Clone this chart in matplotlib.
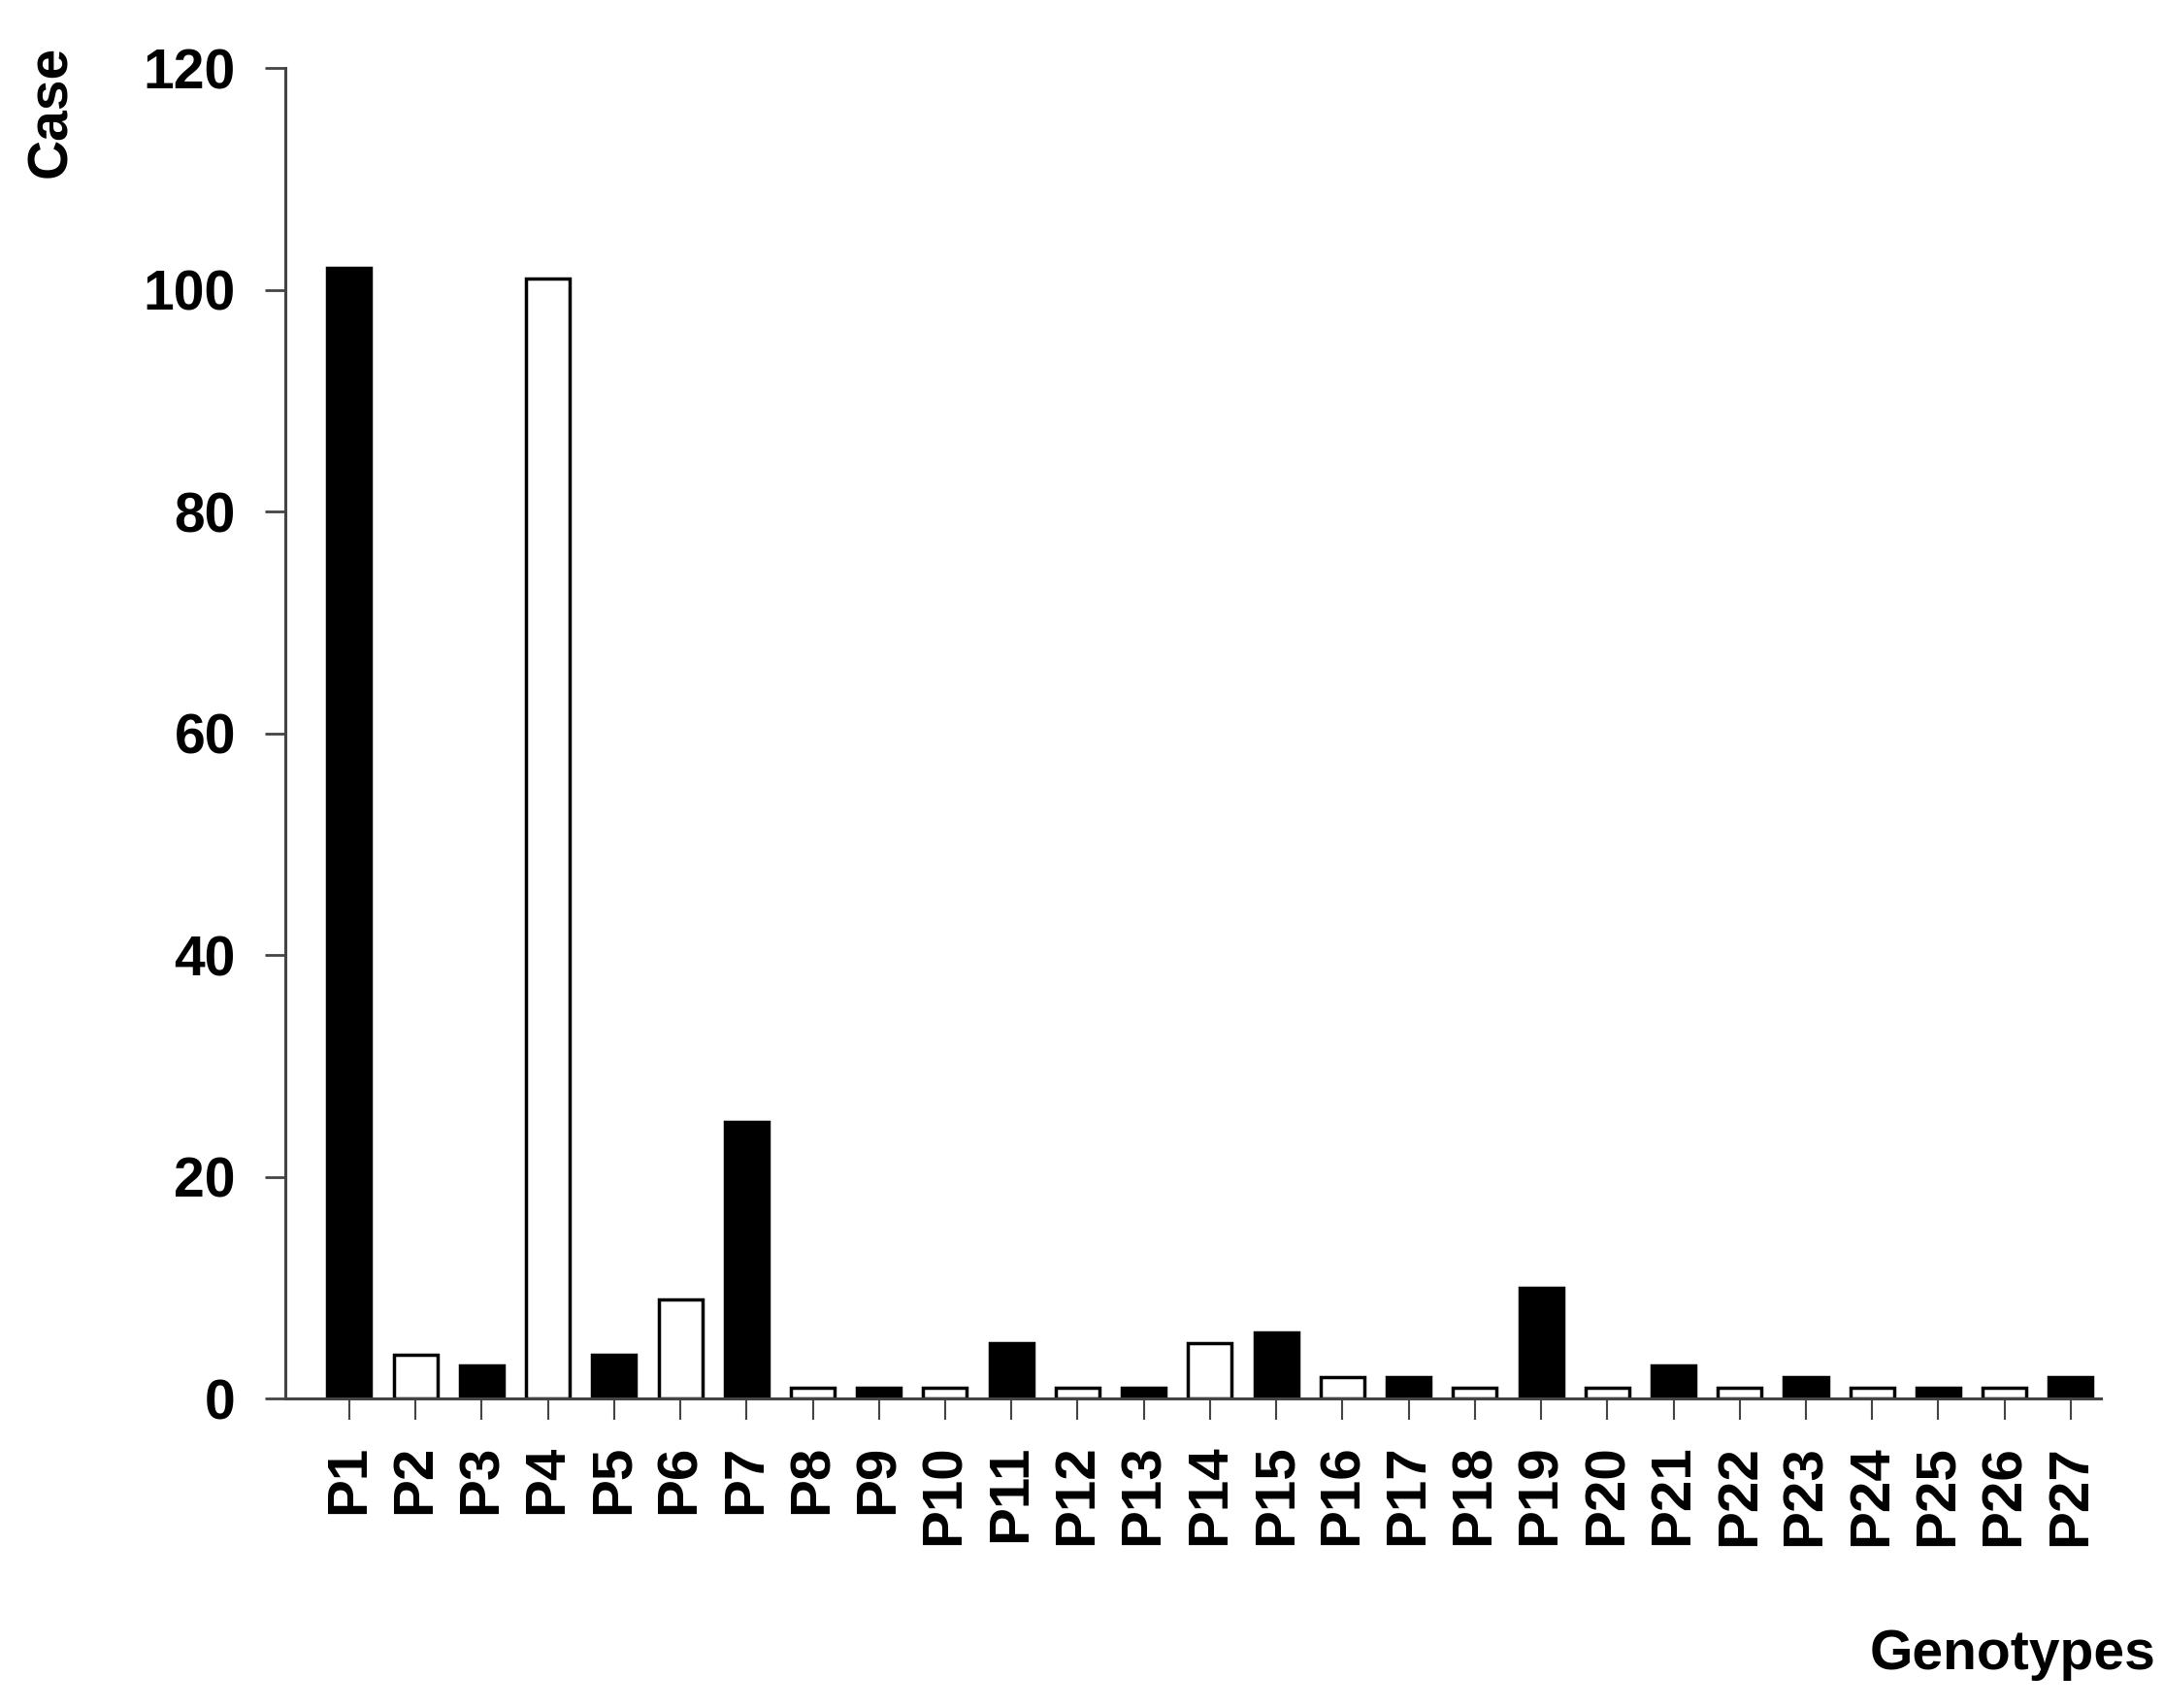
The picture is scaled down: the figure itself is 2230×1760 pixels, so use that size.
import numpy as np
import matplotlib
matplotlib.use("Agg")
import matplotlib.pyplot as plt

plt.rcParams["font.family"] = ["Liberation Sans", "DejaVu Sans"]
plt.rcParams["font.weight"] = "bold"

genotypes = ["P%d" % i for i in range(1, 28)]
cases = [102, 4, 3, 101, 4, 9, 25, 1, 1, 1, 5, 1, 1, 5, 6, 2, 2, 1, 10, 1, 3, 1, 2, 1, 1, 1, 2]
y_ticks = [0, 20, 40, 60, 80, 100, 120]


def plot_genotypes():
    fig = plt.figure(figsize=(22.3, 17.6), dpi=100)
    ax = fig.add_axes([0.132, 0.181, 0.839, 0.779])

    x = np.arange(len(genotypes))
    colors = ["black" if i % 2 == 0 else "white" for i in range(len(genotypes))]
    ax.bar(x, cases, width=0.66, color=colors, edgecolor="black", linewidth=2.5)

    ax.set_xlim(-0.96, len(genotypes) - 0.54)
    ax.set_ylim(0, 120)
    ax.set_yticks(y_ticks)
    ax.set_xticks(x)
    ax.set_xticklabels(genotypes, rotation=90)

    for side in ["top", "right"]:
        ax.spines[side].set_visible(False)
    for side in ["left", "bottom"]:
        ax.spines[side].set_linewidth(2.2)
        ax.spines[side].set_color("#444444")

    ax.tick_params(axis="y", direction="out", length=15, width=2, color="#444444",
                   labelsize=41, pad=22)
    ax.tick_params(axis="x", direction="out", length=16, width=1.5, color="#444444",
                   labelsize=42, pad=18)
    for lbl in ax.get_xticklabels() + ax.get_yticklabels():
        lbl.set_fontweight("bold")

    fig.text(0.024, 0.935, "Case", rotation=90, ha="center", va="center",
             fontsize=41, fontweight="bold")
    fig.text(0.996, 0.031, "Genotypes", ha="right", va="center",
             fontsize=41, fontweight="bold")

    fig.savefig("out.png", dpi=100)
    plt.close(fig)


if __name__ == "__main__":
    plot_genotypes()
